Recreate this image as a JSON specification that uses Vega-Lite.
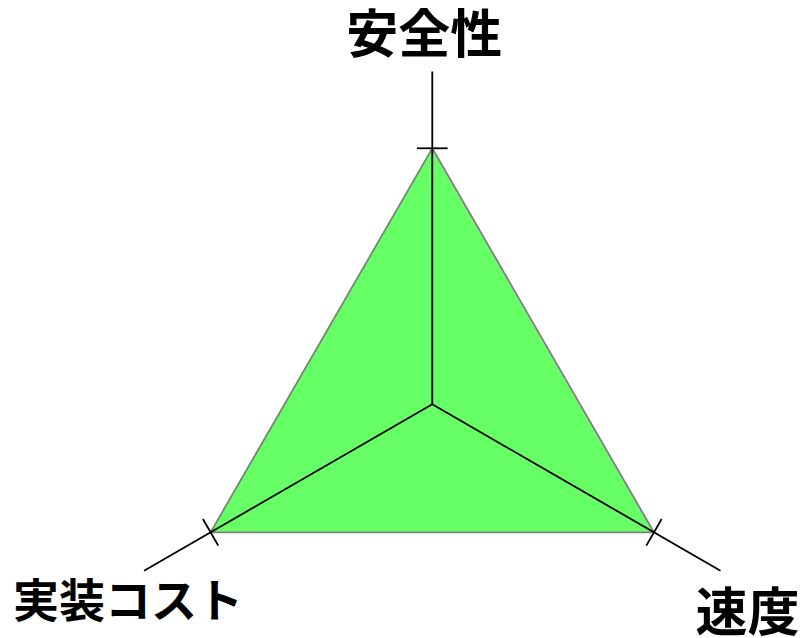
{
  "$schema": "https://vega.github.io/schema/vega-lite/v6.json",
  "width": 800,
  "height": 638,
  "padding": 0,
  "autosize": {"type": "none"},
  "config": {"view": {"stroke": null}},
  "data": {"values": [
    {"axis": "安全性", "value": 5, "max": 5},
    {"axis": "速度", "value": 5, "max": 5},
    {"axis": "実装コスト", "value": 5, "max": 5}
  ]},
  "transform": [
    {"window": [{"op": "row_number", "as": "i"}]},
    {"calculate": "PI/2 - (datum.i - 1) * 2 * PI / 3", "as": "theta"},
    {"calculate": "datum.value * cos(datum.theta)", "as": "vx"},
    {"calculate": "datum.value * sin(datum.theta)", "as": "vy"},
    {"calculate": "0 * datum.max", "as": "cx"},
    {"calculate": "0 * datum.max", "as": "cy"},
    {"calculate": "datum.max * 1.3 * cos(datum.theta)", "as": "ax"},
    {"calculate": "datum.max * 1.3 * sin(datum.theta)", "as": "ay"},
    {"calculate": "datum.max * cos(datum.theta) + datum.max * 0.06 * cos(datum.theta + PI/2)", "as": "t1x"},
    {"calculate": "datum.max * sin(datum.theta) + datum.max * 0.06 * sin(datum.theta + PI/2)", "as": "t1y"},
    {"calculate": "datum.max * cos(datum.theta) - datum.max * 0.06 * cos(datum.theta + PI/2)", "as": "t2x"},
    {"calculate": "datum.max * sin(datum.theta) - datum.max * 0.06 * sin(datum.theta + PI/2)", "as": "t2y"},
    {"calculate": "datum.max * 1.44 * cos(datum.theta)", "as": "lx"},
    {"calculate": "datum.max * 1.44 * sin(datum.theta)", "as": "ly"}
  ],
  "encoding": {
    "x": {"type": "quantitative", "scale": {"domain": [-8.443, 7.182], "nice": false, "zero": false}, "axis": null},
    "y": {"type": "quantitative", "scale": {"domain": [-4.564, 7.896], "nice": false, "zero": false}, "axis": null}
  },
  "layer": [
    {
      "mark": {"type": "line", "interpolate": "linear-closed", "fill": "#66ff66", "stroke": "#808080", "strokeWidth": 1.8},
      "encoding": {
        "x": {"field": "vx", "type": "quantitative"},
        "y": {"field": "vy", "type": "quantitative"},
        "order": {"field": "i", "type": "quantitative"}
      }
    },
    {
      "mark": {"type": "rule", "color": "black", "strokeWidth": 1.8},
      "encoding": {
        "x": {"field": "cx", "type": "quantitative"},
        "y": {"field": "cy", "type": "quantitative"},
        "x2": {"field": "ax"},
        "y2": {"field": "ay"}
      }
    },
    {
      "mark": {"type": "rule", "color": "black", "strokeWidth": 1.8},
      "encoding": {
        "x": {"field": "t1x", "type": "quantitative"},
        "y": {"field": "t1y", "type": "quantitative"},
        "x2": {"field": "t2x"},
        "y2": {"field": "t2y"}
      }
    },
    {
      "transform": [{"filter": "datum.axis === '安全性'"}],
      "mark": {"type": "text", "font": "Noto Sans CJK JP", "fontWeight": "bold", "fontSize": 52, "align": "center", "baseline": "middle", "dx": -8, "dy": 1, "color": "black"},
      "encoding": {
        "x": {"field": "lx", "type": "quantitative"},
        "y": {"field": "ly", "type": "quantitative"},
        "text": {"field": "axis"}
      }
    },
    {
      "transform": [{"filter": "datum.axis === '速度'"}],
      "mark": {"type": "text", "font": "Noto Sans CJK JP", "fontWeight": "bold", "fontSize": 52, "align": "center", "baseline": "middle", "dx": -4, "dy": 26, "color": "black"},
      "encoding": {
        "x": {"field": "lx", "type": "quantitative"},
        "y": {"field": "ly", "type": "quantitative"},
        "text": {"field": "axis"}
      }
    },
    {
      "transform": [{"filter": "datum.axis === '実装コスト'"}],
      "mark": {"type": "text", "font": "Noto Sans CJK JP", "fontWeight": "bold", "fontSize": 46, "align": "center", "baseline": "middle", "dx": 15, "dy": 14, "color": "black"},
      "encoding": {
        "x": {"field": "lx", "type": "quantitative"},
        "y": {"field": "ly", "type": "quantitative"},
        "text": {"field": "axis"}
      }
    }
  ]
}
